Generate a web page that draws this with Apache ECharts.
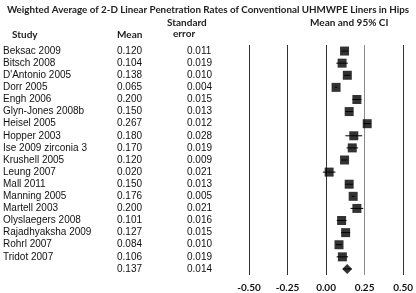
<!DOCTYPE html>
<html>
<head>
<meta charset="UTF-8">
<title>Linear penetration rates</title>
<style>
    html, body { margin: 0; padding: 0; background: #fff; }
    #chart { width: 416px; height: 293px; }
</style>
<script src="https://cdn.jsdelivr.net/npm/echarts@6/dist/echarts.min.js"></script>
</head>
<body>
<div id="chart"></div>
<script>
var studies = ['Beksac 2009', 'Bitsch 2008', "D'Antonio 2005", 'Dorr 2005', 'Engh 2006',
    'Glyn-Jones 2008b', 'Heisel 2005', 'Hopper 2003', 'Ise 2009 zirconia 3', 'Krushell 2005',
    'Leung 2007', 'Mall 2011', 'Manning 2005', 'Martell 2003', 'Olyslaegers 2008',
    'Rajadhyaksha 2009', 'Rohrl 2007', 'Tridot 2007'];
var means = [0.120, 0.104, 0.138, 0.065, 0.200, 0.150, 0.267, 0.180, 0.170, 0.120,
    0.020, 0.150, 0.176, 0.200, 0.101, 0.127, 0.084, 0.106];
var stdErrors = [0.011, 0.019, 0.010, 0.004, 0.015, 0.013, 0.012, 0.028, 0.019, 0.009,
    0.021, 0.013, 0.005, 0.021, 0.016, 0.015, 0.010, 0.019];
var pooledMean = 0.137;
var pooledSE = 0.014;
var tickLabels = ['-0.50', '-0.25', '0.00', '0.25', '0.50'];

var rows = studies.concat(['']);
var allMeans = means.concat([pooledMean]);
var allSE = stdErrors.concat([pooledSE]);

var chart = echarts.init(document.getElementById('chart'), null, {renderer: 'canvas'});

var headFont = 'bold 10px Lato';
chart.setOption({
    animation: false,
    title: {
        text: 'Weighted Average of 2-D Linear Penetration Rates of Conventional UHMWPE Liners in Hips',
        left: 'center', top: 0,
        textStyle: {fontFamily: 'Lato', fontSize: 9.8, fontWeight: 'bold', color: '#222'}
    },
    graphic: [
        {type: 'text', left: 12, top: 30, style: {text: 'Study', font: headFont, fill: '#222'}},
        {type: 'text', left: 117, top: 30, style: {text: 'Mean', font: headFont, fill: '#222'}},
        {type: 'text', left: 167, top: 18, style: {text: 'Standard', font: headFont, fill: '#222'}},
        {type: 'text', left: 173, top: 29, style: {text: 'error', font: headFont, fill: '#222'}},
        {type: 'text', left: 310, top: 18, style: {text: 'Mean and 95% CI', font: headFont, fill: '#222'}}
    ],
    grid: {left: 245.7, right: 10.3, top: 45, height: 235.5},
    xAxis: {
        type: 'value', min: -0.5, max: 0.5, interval: 0.25,
        axisLine: {show: false}, axisTick: {show: false},
        splitLine: {show: true, lineStyle: {color: ['#333', '#333', '#333', '#8a8a8a', '#333'], width: 1}},
        axisLabel: {
            margin: 8, fontFamily: 'Lato', fontSize: 10, fontWeight: 'bold', color: '#111',
            formatter: function (v) { return tickLabels[Math.round((v + 0.5) / 0.25)]; }
        }
    },
    yAxis: {
        type: 'category', data: rows, inverse: true,
        axisLine: {show: false}, axisTick: {show: false}, splitLine: {show: false},
        axisLabel: {
            margin: 22, interval: 0,
            formatter: function (v, i) {
                return '{a|' + v + '}{b|' + allMeans[i].toFixed(3) + '}{c|' + allSE[i].toFixed(3) + '}';
            },
            rich: {
                a: {width: 114, align: 'left', fontFamily: 'Liberation Sans', fontSize: 10, color: '#111'},
                b: {width: 70, align: 'left', fontFamily: 'Liberation Sans', fontSize: 10, color: '#111'},
                c: {width: 40, align: 'left', fontFamily: 'Liberation Sans', fontSize: 10, color: '#111'}
            }
        }
    },
    series: [
        {
            type: 'custom',
            data: allMeans.map(function (m, i) { return [m, i, allSE[i]]; }),
            renderItem: function (params, api) {
                var m = api.value(0), i = api.value(1), se = api.value(2);
                var p1 = api.coord([m - 1.96 * se, i]);
                var p2 = api.coord([m + 1.96 * se, i]);
                return {
                    type: 'line',
                    shape: {x1: p1[0], y1: p1[1], x2: p2[0], y2: p2[1]},
                    style: {stroke: '#000', lineWidth: 1}
                };
            },
            z: 1
        },
        {
            type: 'scatter', symbol: 'rect', symbolSize: 9,
            itemStyle: {color: '#000'},
            data: means.map(function (m, i) { return [m, i]; }),
            z: 2
        },
        {
            type: 'scatter', symbol: 'diamond', symbolSize: [10, 10],
            itemStyle: {color: '#000'},
            data: [[pooledMean, studies.length]],
            z: 2
        }
    ]
});
</script>
</body>
</html>
